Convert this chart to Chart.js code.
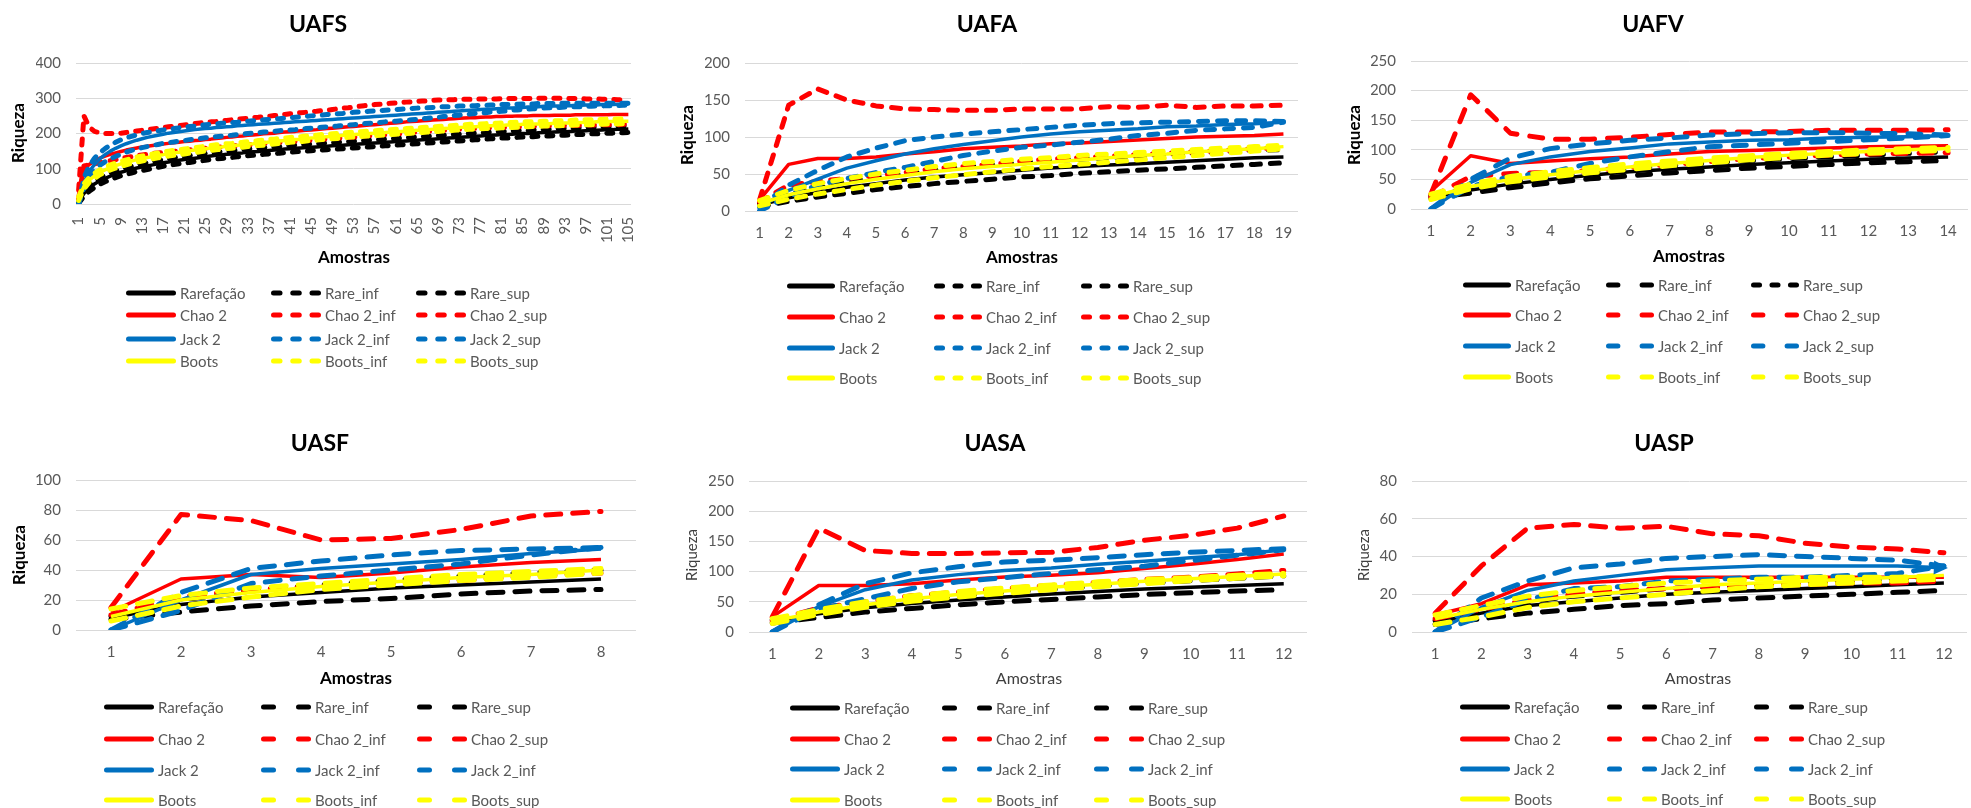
<!DOCTYPE html>
<html>
<head>
<meta charset="utf-8">
<script src="https://cdn.jsdelivr.net/npm/chart.js@4.4.1/dist/chart.umd.min.js"></script>
<style>
  html, body { margin: 0; padding: 0; background: #ffffff; }
  #wrap { position: relative; width: 1971px; height: 808px; overflow: hidden; background: #ffffff; }
  #wrap canvas { position: absolute; left: 0; top: 0; }
</style>
</head>
<body>
<div id="wrap">
  <canvas id="cUAFS" width="1971" height="808"></canvas>
  <canvas id="cUAFA" width="1971" height="808"></canvas>
  <canvas id="cUAFV" width="1971" height="808"></canvas>
  <canvas id="cUASF" width="1971" height="808"></canvas>
  <canvas id="cUASA" width="1971" height="808"></canvas>
  <canvas id="cUASP" width="1971" height="808"></canvas>
</div>
<script>
// ---------- series names ----------
const NAMES_TOP = ['Rarefação', 'Rare_inf', 'Rare_sup', 'Chao 2', 'Chao 2_inf', 'Chao 2_sup',
                   'Jack 2', 'Jack 2_inf', 'Jack 2_sup', 'Boots', 'Boots_inf', 'Boots_sup'];
const NAMES_BOTTOM = ['Rarefação', 'Rare_inf', 'Rare_sup', 'Chao 2', 'Chao 2_inf', 'Chao 2_sup',
                      'Jack 2', 'Jack 2_inf', 'Jack 2_inf', 'Boots', 'Boots_inf', 'Boots_sup'];

// ---------- samples (x categories) ----------
const samplesUAFS = [1,2,3,4,5,6,7,8,9,10,11,12,13,14,15,16,17,18,19,20,21,22,23,24,25,26,27,28,29,30,
  31,32,33,34,35,36,37,38,39,40,41,42,43,44,45,46,47,48,49,50,51,52,53,54,55,56,57,58,59,60,
  61,62,63,64,65,66,67,68,69,70,71,72,73,74,75,76,77,78,79,80,81,82,83,84,85,86,87,88,89,90,
  91,92,93,94,95,96,97,98,99,100,101,102,103,104,105];
const samplesUAFA = [1,2,3,4,5,6,7,8,9,10,11,12,13,14,15,16,17,18,19];
const samplesUAFV = [1,2,3,4,5,6,7,8,9,10,11,12,13,14];
const samplesUASF = [1,2,3,4,5,6,7,8];
const samplesUASA = [1,2,3,4,5,6,7,8,9,10,11,12];
const samplesUASP = [1,2,3,4,5,6,7,8,9,10,11,12];

// ---------- UAFS ----------
const uafsRarefacao = [5,30,45,57,66,73,79,85,90,94, 98,102,105,108,111,114,117,119,122,124,
  126,128,130,132,134,136,138,139,141,142, 144,145,147,148,149,151,152,153,154,156,
  157,158,159,160,161,162,163,164,165,166, 167,168,169,170,171,172,173,174,175,176,
  177,178,179,180,181,182,183,184,185,186, 187,188,189,190,191,192,193,194,195,196,
  197,197,198,199,200,200,201,202,203,203, 204,205,205,206,207,207,208,209,209,210,
  211,211,212,212,213];
const uafsRareInf = [2,22,36,47,56,63,69,75,80,84, 88,92,95,98,101,104,107,109,112,114,
  116,118,120,122,124,126,128,129,131,132, 134,135,137,138,139,141,142,143,144,146,
  147,148,149,150,151,152,153,154,155,156, 157,158,159,160,161,162,163,164,165,166,
  167,168,169,170,171,172,173,174,175,176, 177,178,179,180,181,182,183,184,185,186,
  187,187,188,189,190,190,191,192,193,193, 194,195,195,196,197,197,198,199,199,200,
  201,201,202,202,203];
const uafsRareSup = [8,38,54,66,75,82,88,94,99,103, 107,111,114,117,120,123,126,128,131,133,
  135,137,139,141,143,145,147,148,150,151, 153,154,156,157,158,160,161,162,163,165,
  166,167,168,169,170,171,172,173,174,175, 176,177,178,179,180,181,182,183,184,185,
  186,187,188,189,190,191,192,193,194,195, 196,197,198,199,200,201,202,203,204,205,
  206,206,207,208,209,209,210,211,212,212, 213,214,214,215,216,216,217,218,218,219,
  220,220,221,221,222];
const uafsChao2 = [35,100,112,122,130,136,141,145,149,153, 156,159,162,164,166,168,170,172,174,175,
  177,178,180,181,183,184,186,187,189,190, 192,193,195,196,197,199,200,201,203,204,
  205,206,208,209,210,211,213,214,215,216, 218,219,220,221,223,224,225,226,228,229,
  230,231,233,234,235,236,237,238,239,240, 241,242,243,244,245,245,246,247,247,248,
  248,249,249,250,250,250,251,251,251,251, 252,252,252,252,253,253,253,253,253,253,
  253,254,254,254,254];
const uafsChao2Inf = [15,108,111,114,117,120,123,126,129,132, 134,137,139,141,143,145,146,148,149,151,
  152,154,155,157,158,159,161,162,163,165, 166,167,168,169,170,172,173,174,175,176,
  177,178,179,180,181,183,184,185,186,187, 188,189,190,191,193,194,195,196,197,198,
  199,200,201,203,204,205,206,207,208,209, 210,211,212,213,214,214,215,216,217,217,
  218,218,219,219,220,220,221,221,222,222, 222,223,223,223,223,224,224,224,224,225,
  225,225,225,226,226];
const uafsChao2Sup = [40,250,218,206,202,200,200,200,201,203, 205,207,209,211,213,215,217,219,221,222,
  224,226,228,230,231,233,234,236,237,239, 240,242,243,245,246,248,249,251,252,254,
  256,257,259,260,262,263,265,266,268,270, 272,273,275,277,279,280,282,283,284,286,
  287,288,289,290,291,292,293,294,295,295, 296,296,297,297,297,298,298,298,298,298,
  299,299,299,299,299,299,300,300,300,300, 300,300,300,299,299,299,298,298,298,297,
  297,297,296,296,295];
const uafsJack2 = [0,60,92,112,128,140,150,158,165,171, 176,181,185,189,192,195,198,201,203,205,
  207,209,211,213,214,215,217,218,219,220, 222,223,224,225,226,227,228,229,230,231,
  232,233,234,235,236,237,238,239,240,241, 242,243,244,245,246,247,248,249,250,251,
  252,253,254,255,256,257,258,259,260,261, 262,263,264,265,266,267,268,269,269,270,
  271,272,272,273,274,275,275,276,277,277, 278,278,279,279,280,280,281,281,281,282,
  282,282,283,283,283];
const uafsJack2Inf = [0,45,75,95,110,120,128,135,141,147, 152,156,160,163,166,169,172,174,176,178,
  180,182,184,186,188,189,191,192,194,195, 197,198,200,201,202,204,205,206,208,209,
  210,211,213,214,215,216,218,219,220,221, 223,224,225,226,228,229,230,231,233,234,
  235,236,238,239,240,242,243,245,246,248, 249,251,252,254,255,257,258,259,261,262,
  263,264,266,267,268,269,270,271,272,273, 273,274,275,275,276,276,277,277,278,278,
  279,279,279,280,280];
const uafsJack2Sup = [0,75,108,130,145,157,167,175,182,188, 192,196,200,203,205,208,210,212,214,216,
  218,220,221,223,225,226,227,229,230,231, 232,234,235,236,237,239,240,241,242,244,
  245,246,247,249,250,251,252,254,255,256, 257,259,260,261,262,263,264,265,266,267,
  268,269,270,271,272,273,273,274,275,276, 276,277,278,278,279,279,280,280,281,281,
  282,282,283,283,284,284,284,285,285,285, 285,286,286,286,286,286,286,286,286,286,
  286,286,286,286,286];
const uafsBoots = [15,50,68,80,90,97,104,109,114,118, 122,126,129,132,135,138,140,143,145,147,
  149,151,153,155,157,159,161,162,164,165, 167,168,170,171,173,174,176,177,179,180,
  182,183,184,186,187,188,190,191,192,193, 195,196,197,198,199,200,201,202,203,204,
  205,206,207,208,209,210,211,212,213,214, 215,216,217,218,219,219,220,221,222,222,
  223,224,224,225,226,226,227,227,228,228, 229,229,230,230,231,231,232,232,233,233,
  234,234,234,235,235];
const uafsBootsInf = [10,43,61,73,83,90,97,102,107,111, 115,119,122,125,128,131,133,136,138,140,
  142,144,146,148,150,152,154,155,157,158, 160,161,163,164,166,167,169,170,172,173,
  175,176,177,179,180,181,183,184,185,186, 188,189,190,191,192,193,194,195,196,197,
  198,199,200,201,202,203,204,205,206,207, 208,209,210,211,212,212,213,214,215,215,
  216,217,217,218,219,219,220,220,221,221, 222,222,223,223,224,224,225,225,226,226,
  227,227,227,228,228];
const uafsBootsSup = [20,57,75,87,97,104,111,116,121,125, 129,133,136,139,142,145,147,150,152,154,
  156,158,160,162,164,166,168,169,171,172, 174,175,177,178,180,181,183,184,186,187,
  189,190,191,193,194,195,197,198,199,200, 202,203,204,205,206,207,208,209,210,211,
  212,213,214,215,216,217,218,219,220,221, 222,223,224,225,226,226,227,228,229,229,
  230,231,231,232,233,233,234,234,235,235, 236,236,237,237,238,238,239,239,240,240,
  241,241,241,242,242];

// ---------- UAFA ----------
const uafaRarefacao = [8,18,25,32,37,42,46,49,52,55,58,60,62,64,66,68,70,72,73];
const uafaRareInf   = [6,13,19,24,29,33,37,40,43,46,48,51,53,55,57,59,61,63,65];
const uafaRareSup   = [10,23,31,39,45,50,55,59,62,65,68,70,72,74,76,78,80,82,83];
const uafaChao2     = [15,63,71,71,73,77,80,84,86,88,91,92,94,96,98,100,101,102,104];
const uafaChao2Inf  = [12,35,40,44,48,52,57,60,63,67,70,72,74,76,78,80,82,84,85];
const uafaChao2Sup  = [15,143,165,150,142,138,137,136,136,138,138,138,141,140,143,140,142,142,143];
const uafaJack2     = [5,28,43,58,68,77,84,90,95,100,104,107,109,111,114,115,117,118,120];
const uafaJack2Inf  = [0,20,35,44,52,59,67,75,81,86,89,93,97,102,105,109,111,113,120];
const uafaJack2Sup  = [5,35,55,73,85,95,100,104,107,110,113,116,118,119,120,121,122,122,121];
const uafaBoots     = [10,22,30,37,43,48,53,57,60,63,66,69,72,75,77,80,82,84,87];
const uafaBootsInf  = [7,16,23,29,35,40,45,49,53,57,60,63,66,69,72,75,78,81,84];
const uafaBootsSup  = [14,28,37,44,50,55,60,64,67,70,72,75,77,79,81,83,85,87,89];

// ---------- UAFV ----------
const uafvRarefacao = [20,32,42,50,57,63,67,71,75,78,81,84,86,88];
const uafvRareInf   = [18,27,36,44,51,56,61,65,69,72,75,78,80,82];
const uafvRareSup   = [22,36,47,56,63,69,73,78,82,85,88,91,94,97];
const uafvChao2     = [30,90,77,81,85,88,93,97,99,101,103,105,106,107];
const uafvChao2Inf  = [20,55,60,62,65,70,75,80,85,88,91,93,94,95];
const uafvChao2Sup  = [25,193,128,118,118,121,126,130,130,131,133,133,133,134];
const uafvJack2     = [0,45,75,88,97,103,110,113,116,117,120,121,122,124];
const uafvJack2Inf  = [0,38,55,62,77,88,97,105,108,111,114,117,120,124];
const uafvJack2Sup  = [0,50,86,102,110,116,120,125,127,129,129,128,127,125];
const uafvBoots     = [20,38,50,58,65,71,77,82,87,91,94,97,100,102];
const uafvBootsInf  = [16,34,46,54,61,67,73,78,83,87,91,94,97,99];
const uafvBootsSup  = [25,42,55,63,70,76,81,86,90,94,97,100,102,104];

// ---------- UASF ----------
const uasfRarefacao = [8,17,22,25,28,30,32,34];
const uasfRareInf   = [7,12,16,19,21,24,26,27];
const uasfRareSup   = [9,20,26,30,33,36,38,40];
const uasfChao2     = [12,34,37,35,38,42,45,47];
const uasfChao2Inf  = [10,22,27,29,31,33,36,38];
const uasfChao2Sup  = [15,77,73,60,61,67,76,79];
const uasfJack2     = [0,20,37,41,44,47,51,54];
const uasfJack2Inf  = [0,13,31,36,40,44,50,55];
const uasfJack2Sup  = [0,25,41,46,50,53,54,55];
const uasfBoots     = [9,20,25,29,32,35,37,40];
const uasfBootsInf  = [6,16,22,27,30,33,35,38];
const uasfBootsSup  = [14,23,28,31,34,37,39,41];

// ---------- UASA ----------
const uasaRarefacao = [18,30,40,47,53,58,63,67,71,74,77,80];
const uasaRareInf   = [15,24,33,39,45,50,54,58,62,65,68,70];
const uasaRareSup   = [20,34,45,53,60,66,71,76,81,85,89,93];
const uasaChao2     = [25,77,77,80,86,91,94,98,105,112,120,129];
const uasaChao2Inf  = [18,40,50,60,66,72,77,82,87,91,96,102];
const uasaChao2Sup  = [25,172,135,130,130,131,132,140,152,160,172,192];
const uasaJack2     = [0,42,70,86,95,102,106,112,117,123,128,136];
const uasaJack2Inf  = [0,38,55,72,83,90,97,103,109,118,127,136];
const uasaJack2Sup  = [0,45,80,98,108,116,119,123,128,132,135,138];
const uasaBoots     = [18,33,45,55,62,68,74,79,84,88,92,96];
const uasaBootsInf  = [14,29,41,51,58,64,70,75,80,85,89,93];
const uasaBootsSup  = [22,37,50,60,67,73,78,83,87,90,94,97];

// ---------- UASP ----------
const uaspRarefacao = [5,10,14,16,18,20,21,22,23,24,25,26];
const uaspRareInf   = [4,7,10,12,14,15,17,18,19,20,21,22];
const uaspRareSup   = [6,12,16,19,21,23,24,25,26,27,28,28];
const uaspChao2     = [9,15,25,26,27,29,29,29,29,29,29,29];
const uaspChao2Inf  = [7,12,17,20,22,23,24,25,25,26,26,27];
const uaspChao2Sup  = [10,35,55,57,55,56,52,51,47,45,44,42];
const uaspJack2     = [0,13,22,27,30,33,34,35,35,35,35,34];
const uaspJack2Inf  = [0,8,17,23,24,27,28,29,29,30,31,35];
const uaspJack2Sup  = [0,18,27,34,36,39,40,41,40,39,38,35];
const uaspBoots     = [7,12,16,19,21,23,25,26,27,28,29,30];
const uaspBootsInf  = [4,8,13,16,18,20,22,24,25,26,27,28];
const uaspBootsSup  = [9,14,19,22,24,26,27,28,29,29,29,30];

// ---------- styling ----------
const SERIES_COLORS = ['#000000','#000000','#000000','#FF0000','#FF0000','#FF0000',
                       '#0070C0','#0070C0','#0070C0','#FFFF00','#FFFF00','#FFFF00'];
const PAGE_W = 1971, PAGE_H = 808;
const Y_AXIS_W = 40, X_AXIS_H = 40;
const LEG_ALL_SHORT = ['solid','short','short','solid','short','short','solid','short','short','solid','short','short'];
const LEG_ALL_LONG  = ['solid','long','long','solid','long','long','solid','long','long','solid','long','long'];
const LEG_UAFV      = ['solid','long','short','solid','long','long','solid','long','long','solid','long','long'];

Chart.defaults.font.family = "Lato, 'Open Sans', sans-serif";

// Panel placement on the page (pixels) and per-panel look.
const PANELS = [
  { id: 'UAFS', names: NAMES_TOP, labels: samplesUAFS,
    series: [uafsRarefacao, uafsRareInf, uafsRareSup, uafsChao2, uafsChao2Inf, uafsChao2Sup,
             uafsJack2, uafsJack2Inf, uafsJack2Sup, uafsBoots, uafsBootsInf, uafsBootsSup],
    grid: [76, 631, 63, 204], yMax: 400, yStep: 100, rot: 90, every: 4, dash: [6, 9],
    title: [318, 25], xTitle: [354, 258], yTitle: [19, 133], bold: true,
    legRows: [293, 315, 339, 361], legCols: [126, 271, 416], legLen: 50, legStyle: LEG_ALL_SHORT },
  { id: 'UAFA', names: NAMES_TOP, labels: samplesUAFA,
    series: [uafaRarefacao, uafaRareInf, uafaRareSup, uafaChao2, uafaChao2Inf, uafaChao2Sup,
             uafaJack2, uafaJack2Inf, uafaJack2Sup, uafaBoots, uafaBootsInf, uafaBootsSup],
    grid: [745, 1298, 63, 211], yMax: 200, yStep: 50, rot: 0, every: 1, dash: [9, 10],
    title: [987, 25], xTitle: [1022, 258], yTitle: [688, 135], bold: true,
    legRows: [286, 317, 348, 378], legCols: [787, 934, 1081], legLen: 48, legStyle: LEG_ALL_SHORT },
  { id: 'UAFV', names: NAMES_TOP, labels: samplesUAFV,
    series: [uafvRarefacao, uafvRareInf, uafvRareSup, uafvChao2, uafvChao2Inf, uafvChao2Sup,
             uafvJack2, uafvJack2Inf, uafvJack2Sup, uafvBoots, uafvBootsInf, uafvBootsSup],
    grid: [1411, 1968, 61, 209], yMax: 250, yStep: 50, rot: 0, every: 1, dash: [13, 13],
    title: [1653, 25], xTitle: [1689, 257], yTitle: [1355, 135], bold: true,
    legRows: [285, 315, 346, 377], legCols: [1463, 1606, 1751], legLen: 48, legStyle: LEG_UAFV },
  { id: 'UASF', names: NAMES_BOTTOM, labels: samplesUASF,
    series: [uasfRarefacao, uasfRareInf, uasfRareSup, uasfChao2, uasfChao2Inf, uasfChao2Sup,
             uasfJack2, uasfJack2Inf, uasfJack2Sup, uasfBoots, uasfBootsInf, uasfBootsSup],
    grid: [76, 636, 480, 630], yMax: 100, yStep: 20, rot: 0, every: 1, dash: [15, 12],
    title: [320, 444], xTitle: [356, 679], yTitle: [20, 555], bold: true,
    legRows: [707, 739, 770, 800], legCols: [104, 261, 417], legLen: 50, legStyle: LEG_ALL_LONG },
  { id: 'UASA', names: NAMES_BOTTOM, labels: samplesUASA,
    series: [uasaRarefacao, uasaRareInf, uasaRareSup, uasaChao2, uasaChao2Inf, uasaChao2Sup,
             uasaJack2, uasaJack2Inf, uasaJack2Sup, uasaBoots, uasaBootsInf, uasaBootsSup],
    grid: [749, 1307, 481, 632], yMax: 250, yStep: 50, rot: 0, every: 1, dash: [15, 12],
    title: [995, 444], xTitle: [1029, 679], yTitle: [692, 555], bold: false,
    legRows: [708, 739, 769, 800], legCols: [790, 942, 1094], legLen: 50, legStyle: LEG_ALL_LONG },
  { id: 'UASP', names: NAMES_BOTTOM, labels: samplesUASP,
    series: [uaspRarefacao, uaspRareInf, uaspRareSup, uaspChao2, uaspChao2Inf, uaspChao2Sup,
             uaspJack2, uaspJack2Inf, uaspJack2Sup, uaspBoots, uaspBootsInf, uaspBootsSup],
    grid: [1412, 1967, 481, 632], yMax: 80, yStep: 20, rot: 0, every: 1, dash: [15, 12],
    title: [1664, 444], xTitle: [1698, 679], yTitle: [1364, 555], bold: false, arrowOn: 6,
    legRows: [707, 739, 769, 799], legCols: [1460, 1607, 1754], legLen: 50, legStyle: LEG_ALL_LONG }
];

// Draws panel title, axis titles, the 3x4 legend grid and the end arrow.
const panelDecor = {
  id: 'panelDecor',
  afterDatasetsDraw(chart, args, o) {
    if (o.arrowOn == null) return;
    const pts = chart.getDatasetMeta(o.arrowOn).data;
    const a = pts[pts.length - 2], b = pts[pts.length - 1];
    const ang = Math.atan2(b.y - a.y, b.x - a.x);
    const ctx = chart.ctx;
    ctx.save();
    ctx.translate(b.x, b.y);
    ctx.rotate(ang);
    ctx.fillStyle = chart.data.datasets[o.arrowOn].borderColor;
    ctx.beginPath();
    ctx.moveTo(4, 0);
    ctx.lineTo(-10, -7);
    ctx.lineTo(-10, 7);
    ctx.closePath();
    ctx.fill();
    ctx.restore();
  },
  afterDraw(chart, args, o) {
    const ctx = chart.ctx;
    ctx.save();
    ctx.textAlign = 'center';
    ctx.textBaseline = 'middle';
    // title
    ctx.fillStyle = '#000000';
    ctx.font = "700 23px Lato, 'Open Sans', sans-serif";
    ctx.fillText(o.title, o.titlePos[0], o.titlePos[1]);
    // axis titles
    if (o.bold) {
      ctx.fillStyle = '#000000';
      ctx.font = "700 17px Lato, 'Open Sans', sans-serif";
    } else {
      ctx.fillStyle = '#404040';
      ctx.font = "400 16px Lato, 'Open Sans', sans-serif";
    }
    ctx.fillText('Amostras', o.xTitle[0], o.xTitle[1]);
    ctx.save();
    ctx.translate(o.yTitle[0], o.yTitle[1]);
    ctx.rotate(-Math.PI / 2);
    if (!o.bold) ctx.font = "400 15px Lato, 'Open Sans', sans-serif";
    ctx.fillText('Riqueza', 0, 0);
    ctx.restore();
    // legend
    ctx.textAlign = 'left';
    ctx.font = "400 15px Lato, 'Open Sans', sans-serif";
    const L = o.legLen, w = 5;
    chart.data.datasets.forEach((ds, i) => {
      const x = o.legCols[i % 3], y = o.legRows[Math.floor(i / 3)];
      const style = o.legStyle[i];
      let segs;
      if (style === 'solid') segs = [[0, L]];
      else if (style === 'short') segs = [[0, L * 0.23], [L * 0.385, L * 0.615], [L * 0.77, L]];
      else segs = [[0, L * 0.3], [L * 0.7, L]];
      ctx.strokeStyle = ds.borderColor;
      ctx.lineWidth = w;
      ctx.lineCap = 'round';
      segs.forEach(s => {
        ctx.beginPath();
        ctx.moveTo(x + s[0] + w / 2, y);
        ctx.lineTo(x + s[1] - w / 2, y);
        ctx.stroke();
      });
      ctx.fillStyle = '#595959';
      ctx.fillText(ds.label, x + L + 4, y + 1);
    });
    ctx.restore();
  }
};

PANELS.forEach(p => {
  const [gL, gR, gT, gB] = p.grid;
  const datasets = p.series.map((vals, i) => {
    const solid = (i % 3 === 0);
    return {
      label: p.names[i],
      data: vals,
      borderColor: SERIES_COLORS[i],
      backgroundColor: SERIES_COLORS[i],
      borderWidth: solid ? 3.5 : 5,
      borderDash: solid ? [] : p.dash,
      borderCapStyle: solid ? 'butt' : 'round',
      borderJoinStyle: 'round',
      pointRadius: 0,
      tension: 0,
      fill: false,
      order: 12 - i
    };
  });
  new Chart(document.getElementById('c' + p.id), {
    type: 'line',
    data: { labels: p.labels, datasets },
    options: {
      responsive: false,
      animation: false,
      events: [],
      layout: { padding: { left: gL - Y_AXIS_W, right: PAGE_W - gR, top: gT, bottom: PAGE_H - gB - X_AXIS_H } },
      plugins: {
        legend: { display: false },
        tooltip: { enabled: false },
        title: { display: false },
        panelDecor: {
          title: p.id, titlePos: p.title, xTitle: p.xTitle, yTitle: p.yTitle, bold: p.bold,
          legRows: p.legRows, legCols: p.legCols, legLen: p.legLen, legStyle: p.legStyle,
          arrowOn: p.arrowOn
        }
      },
      scales: {
        x: {
          type: 'category',
          offset: true,
          grid: { display: false, drawTicks: false },
          border: { display: false },
          ticks: {
            autoSkip: false, minRotation: p.rot, maxRotation: p.rot, padding: 13,
            color: '#595959', font: { size: 15 },
            callback(value, index) { return index % p.every === 0 ? this.getLabelForValue(value) : ''; }
          },
          afterFit(s) { s.height = X_AXIS_H; }
        },
        y: {
          min: 0, max: p.yMax,
          grid: { color: '#D9D9D9', lineWidth: 1, drawTicks: false },
          border: { display: false },
          ticks: { stepSize: p.yStep, padding: 15, color: '#595959', font: { size: 15 } },
          afterFit(s) { s.width = Y_AXIS_W; }
        }
      }
    },
    plugins: [panelDecor]
  });
});
</script>
</body>
</html>
